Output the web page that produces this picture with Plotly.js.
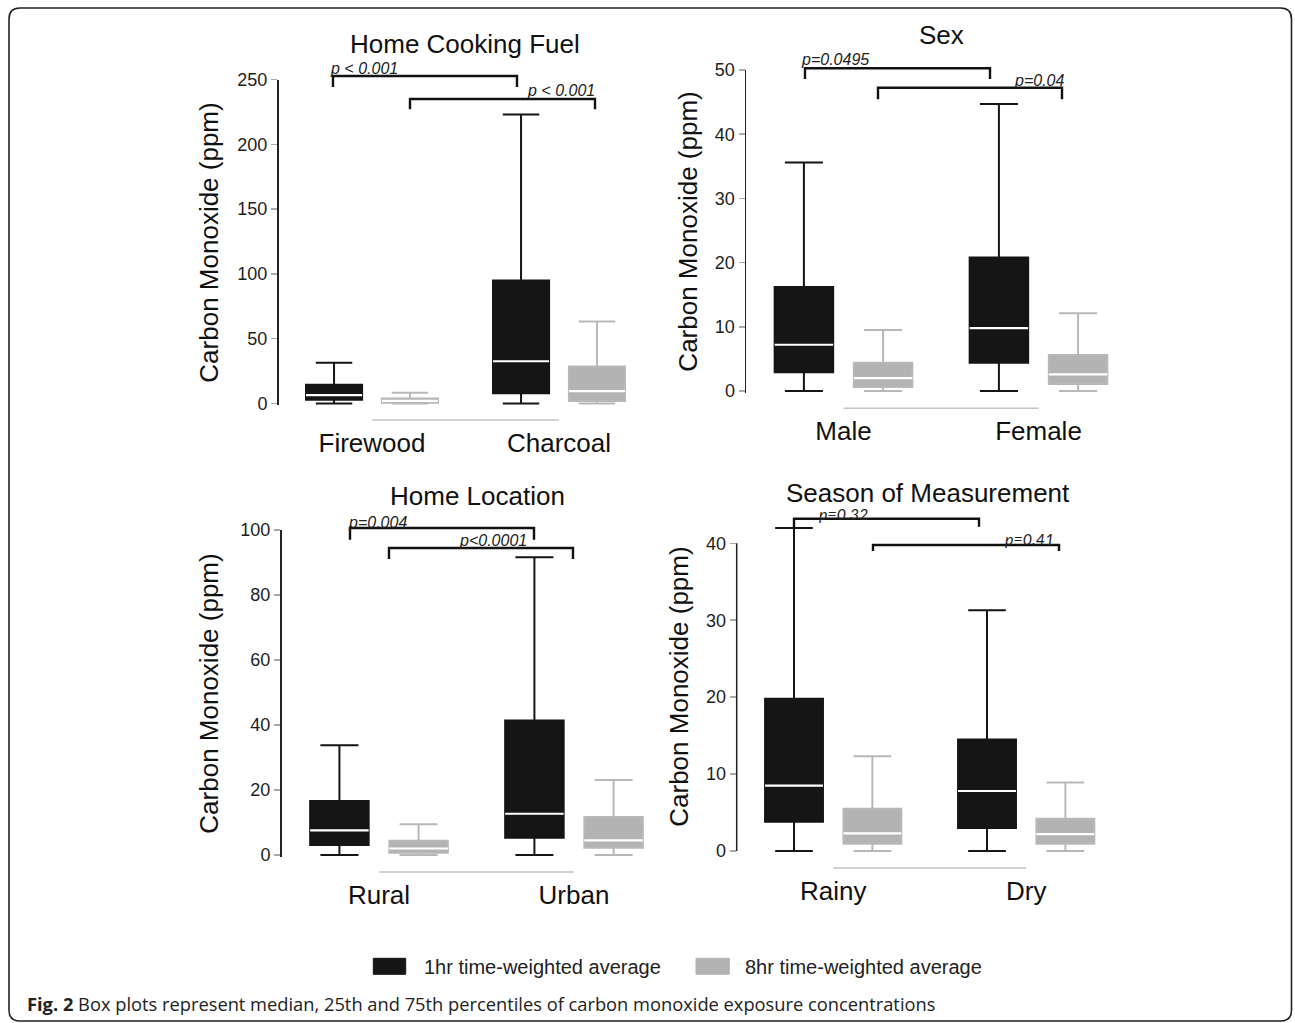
<!DOCTYPE html>
<html>
<head>
<meta charset="utf-8">
<script src="https://cdn.plot.ly/plotly-3.0.1.min.js"></script>
<style>html,body{margin:0;padding:0;background:#fff;}#chart{width:1295px;height:1023px;}</style>
</head>
<body>
<div id="chart"></div>
<script>
// ---------------- DATA ----------------
const fuelCats = ['Firewood', 'Charcoal'];
const fuel1hrLow = [0, 0];
const fuel1hrQ1 = [2.8, 8.0];
const fuel1hrMed = [6.4, 32.6];
const fuel1hrQ3 = [14.4, 94.9];
const fuel1hrHigh = [31.4, 223];
const fuel8hrLow = [0, 0];
const fuel8hrQ1 = [0.5, 2.0];
const fuel8hrMed = [2.0, 9.5];
const fuel8hrQ3 = [3.9, 28.5];
const fuel8hrHigh = [8.2, 63.3];
const fuelTicks = [0, 50, 100, 150, 200, 250];

const sexCats = ['Male', 'Female'];
const sex1hrLow = [0, 0];
const sex1hrQ1 = [2.9, 4.4];
const sex1hrMed = [7.2, 9.8];
const sex1hrQ3 = [16.2, 20.8];
const sex1hrHigh = [35.6, 44.7];
const sex8hrLow = [0, 0];
const sex8hrQ1 = [0.6, 1.1];
const sex8hrMed = [2.0, 2.6];
const sex8hrQ3 = [4.4, 5.6];
const sex8hrHigh = [9.5, 12.1];
const sexTicks = [0, 10, 20, 30, 40, 50];

const locCats = ['Rural', 'Urban'];
const loc1hrLow = [0, 0];
const loc1hrQ1 = [3.1, 5.3];
const loc1hrMed = [7.6, 12.7];
const loc1hrQ3 = [16.6, 41.4];
const loc1hrHigh = [33.8, 91.6];
const loc8hrLow = [0, 0];
const loc8hrQ1 = [0.7, 2.2];
const loc8hrMed = [2.0, 4.5];
const loc8hrQ3 = [4.4, 11.7];
const loc8hrHigh = [9.5, 23.1];
const locTicks = [0, 20, 40, 60, 80, 100];

const seasonCats = ['Rainy', 'Dry'];
const season1hrLow = [0, 0];
const season1hrQ1 = [3.8, 3.0];
const season1hrMed = [8.5, 7.8];
const season1hrQ3 = [19.8, 14.5];
const season1hrHigh = [42.0, 31.3];
const season8hrLow = [0, 0];
const season8hrQ1 = [0.95, 0.95];
const season8hrMed = [2.3, 2.2];
const season8hrQ3 = [5.5, 4.2];
const season8hrHigh = [12.3, 8.9];
const seasonTicks = [0, 10, 20, 30, 40];

const panelTitles = ['Home Cooking Fuel', 'Sex', 'Home Location', 'Season of Measurement'];
const seriesNames = ['1hr time-weighted average', '8hr time-weighted average'];
const pLabels = [['p < 0.001', 'p < 0.001'], ['p=0.0495', 'p=0.04'], ['p=0.004', 'p<0.0001'], ['p=0.32', 'p=0.41']];
const yTitle = 'Carbon Monoxide (ppm)';
const captionBold = 'Fig. 2';
const captionText = 'Box plots represent median, 25th and 75th percentiles of carbon monoxide exposure concentrations';

// ---------------- STYLE / LAYOUT HELPERS ----------------
const W = 1295, H = 1023;
const X = v => v / W;
const Y = v => 1 - v / H;
const C1 = '#151515', C8 = '#b3b3b3', C8L = '#b8b8b8';
const AX = '#222222';
const FONT = 'Liberation Sans, Arial, sans-serif';

function boxTrace(n, cats, lo, q1, med, q3, hi, fill, line, grp, name) {
  return {
    type: 'box', xaxis: 'x' + (n > 1 ? n : ''), yaxis: 'y' + (n > 1 ? n : ''),
    x: cats, lowerfence: lo, q1: q1, median: med, q3: q3, upperfence: hi,
    fillcolor: fill, line: {color: line, width: 2}, whiskerwidth: 0.65,
    boxpoints: false, offsetgroup: grp, name: name, hoverinfo: 'skip'
  };
}
function medTrace(n, cats, med, grp) {
  return {
    type: 'box', xaxis: 'x' + (n > 1 ? n : ''), yaxis: 'y' + (n > 1 ? n : ''),
    x: cats, lowerfence: med, q1: med, median: med, q3: med, upperfence: med,
    fillcolor: 'rgba(0,0,0,0)', line: {color: '#ffffff', width: 2.2}, whiskerwidth: 0,
    boxpoints: false, offsetgroup: grp, hoverinfo: 'skip', showlegend: false
  };
}

const panels = [
  {cats: fuelCats, a: [fuel1hrLow, fuel1hrQ1, fuel1hrMed, fuel1hrQ3, fuel1hrHigh], b: [fuel8hrLow, fuel8hrQ1, fuel8hrMed, fuel8hrQ3, fuel8hrHigh], ticks: fuelTicks},
  {cats: sexCats, a: [sex1hrLow, sex1hrQ1, sex1hrMed, sex1hrQ3, sex1hrHigh], b: [sex8hrLow, sex8hrQ1, sex8hrMed, sex8hrQ3, sex8hrHigh], ticks: sexTicks},
  {cats: locCats, a: [loc1hrLow, loc1hrQ1, loc1hrMed, loc1hrQ3, loc1hrHigh], b: [loc8hrLow, loc8hrQ1, loc8hrMed, loc8hrQ3, loc8hrHigh], ticks: locTicks},
  {cats: seasonCats, a: [season1hrLow, season1hrQ1, season1hrMed, season1hrQ3, season1hrHigh], b: [season8hrLow, season8hrQ1, season8hrMed, season8hrQ3, season8hrHigh], ticks: seasonTicks}
];

// pixel geometry of each panel
const geo = [
  {x0: 278.5, x1: 652.5, top: 79.5, bot: 405.44, range: [-1.5, 250], showline: true, standoff: 11, lineY: 420, titleX: 465, titleY: 44},
  {x0: 746, x1: 1136, top: 70, bot: 392.9, range: [-0.3, 50], showline: true, standoff: 10, lineY: 408.3, titleX: 941, titleY: 35.5},
  {x0: 281.5, x1: 671.5, top: 530, bot: 856.95, range: [-0.6, 100], showline: true, standoff: 14, lineY: 872, titleX: 477, titleY: 495.5},
  {x0: 736.7, x1: 1122.7, top: 520.2, bot: 852.9, range: [-0.25, 43], showline: false, standoff: 9, lineY: 868, titleX: 928, titleY: 492.5}
];

// bracket geometry (pixels): [xLeft, xRight, yTop, yDropLeft, yDropRight, textX, textY]
const brackets = [
  [[333, 517, 76, 87, 87, 328, 68.5], [410, 595, 99, 109.3, 109.3, 525, 90.5]],
  [[805, 990, 68.3, 79, 79, 799, 59.5], [878, 1062, 87.7, 99.3, 99.3, 1012, 80]],
  [[350, 534, 528, 539.7, 539.7, 346, 522], [389, 573, 548, 559, 559, 457, 540.7]],
  [[794, 979, 518.7, 527.7, 526.7, 817, 513.5], [873, 1059, 545, 551, 551, 1003, 538]]
];
const pFonts = [FONT, FONT, FONT, 'Lato, Open Sans, sans-serif'];

const data = [];
const layout = {
  width: W, height: H, margin: {l: 0, r: 0, t: 0, b: 0},
  paper_bgcolor: '#ffffff', plot_bgcolor: 'rgba(0,0,0,0)',
  showlegend: false, boxmode: 'group', boxgap: 0.188, boxgroupgap: 0.261,
  font: {family: FONT, color: AX},
  shapes: [], annotations: []
};

panels.forEach((p, i) => {
  const n = i + 1;
  const g = geo[i];
  data.push(boxTrace(n, p.cats, ...p.a, C1, C1, 'a', seriesNames[0]));
  data.push(boxTrace(n, p.cats, ...p.b, C8, C8L, 'b', seriesNames[1]));
  data.push(medTrace(n, p.cats, p.a[2], 'a'));
  data.push(medTrace(n, p.cats, p.b[2], 'b'));
  const sx = n > 1 ? n : '';
  layout['xaxis' + sx] = {
    type: 'category', domain: [X(g.x0), X(g.x1)], range: [-0.5, 1.5], anchor: 'y' + sx,
    showline: false, ticks: '', showgrid: false, zeroline: false, fixedrange: true,
    tickfont: {size: 26, color: '#111', family: FONT}, ticklabelstandoff: 20
  };
  layout['yaxis' + sx] = {
    domain: [Y(g.bot), Y(g.top)], range: g.range, anchor: 'x' + sx,
    showline: g.showline, linecolor: AX, linewidth: 1.5,
    ticks: 'outside', ticklen: 6, tickwidth: 1.5, tickcolor: '#aaaaaa',
    tickvals: p.ticks, showgrid: false, zeroline: false, fixedrange: true,
    tickfont: {size: 18, color: '#1e1e1e', family: FONT},
    title: {text: yTitle, font: {size: 26, color: '#111', family: FONT}, standoff: g.standoff}
  };
  if (!g.showline) {
    layout.shapes.push({type: 'line', xref: 'x' + sx + ' domain', yref: 'y' + sx,
      x0: 0, x1: 0, y0: p.ticks[0], y1: p.ticks[p.ticks.length - 1], line: {color: AX, width: 1.5}});
  }
  // thin grey baseline between category centres
  layout.shapes.push({type: 'line', xref: 'x' + sx, yref: 'paper', x0: 0, x1: 1,
    y0: Y(g.lineY), y1: Y(g.lineY), line: {color: '#c4c4c4', width: 1.5}});
  // panel title
  layout.annotations.push({xref: 'paper', yref: 'paper', x: X(g.titleX), y: Y(g.titleY),
    xanchor: 'center', yanchor: 'middle', showarrow: false, text: panelTitles[i],
    font: {size: 26, color: '#111', family: FONT}});
  // brackets + p values
  brackets[i].forEach((b, k) => {
    const [xl, xr, yt, ydl, ydr, tx, ty] = b;
    layout.shapes.push({type: 'path', xref: 'paper', yref: 'paper',
      path: `M ${X(xl)} ${Y(ydl)} L ${X(xl)} ${Y(yt)} L ${X(xr)} ${Y(yt)} L ${X(xr)} ${Y(ydr)}`,
      line: {color: '#111', width: 2.4}});
    layout.annotations.push({xref: 'paper', yref: 'paper', x: X(tx), y: Y(ty),
      xanchor: 'left', yanchor: 'middle', showarrow: false, text: pLabels[i][k],
      font: {size: 16, color: '#222', family: pFonts[i], style: 'italic'}});
  });
});

// legend (drawn manually to match the large swatches)
const legendItems = [
  {sw: [373.3, 405.7], tx: 421.7, fill: C1, name: seriesNames[0]},
  {sw: [696, 729.3], tx: 743.3, fill: C8, name: seriesNames[1]}
];
legendItems.forEach(it => {
  layout.shapes.push({type: 'rect', xref: 'paper', yref: 'paper',
    x0: X(it.sw[0]), x1: X(it.sw[1]), y0: Y(974.3), y1: Y(958.3),
    fillcolor: it.fill, line: {color: it.fill, width: 1}});
  layout.annotations.push({xref: 'paper', yref: 'paper', x: X(it.tx), y: Y(966.5),
    xanchor: 'left', yanchor: 'middle', showarrow: false, text: it.name,
    font: {size: 20, color: '#222', family: FONT}});
});

// caption
layout.annotations.push({xref: 'paper', yref: 'paper', x: X(25), y: Y(1003),
  xanchor: 'left', yanchor: 'middle', showarrow: false,
  text: '<b>' + captionBold + '</b> ' + captionText,
  font: {size: 18.3, color: '#222', family: 'Open Sans, Noto Sans, sans-serif'}});

// rounded frame
(function () {
  const l = 9, r = 1291.5, t = 8, b = 1021, rad = 11;
  const path = `M ${X(l + rad)} ${Y(t)} L ${X(r - rad)} ${Y(t)} Q ${X(r)} ${Y(t)} ${X(r)} ${Y(t + rad)} ` +
    `L ${X(r)} ${Y(b - rad)} Q ${X(r)} ${Y(b)} ${X(r - rad)} ${Y(b)} L ${X(l + rad)} ${Y(b)} ` +
    `Q ${X(l)} ${Y(b)} ${X(l)} ${Y(b - rad)} L ${X(l)} ${Y(t + rad)} Q ${X(l)} ${Y(t)} ${X(l + rad)} ${Y(t)} Z`;
  layout.shapes.push({type: 'path', xref: 'paper', yref: 'paper', path: path,
    line: {color: '#222', width: 1.6}, fillcolor: 'rgba(0,0,0,0)', layer: 'below'});
})();

Plotly.newPlot('chart', data, layout, {displayModeBar: false, staticPlot: true});
</script>
</body>
</html>
